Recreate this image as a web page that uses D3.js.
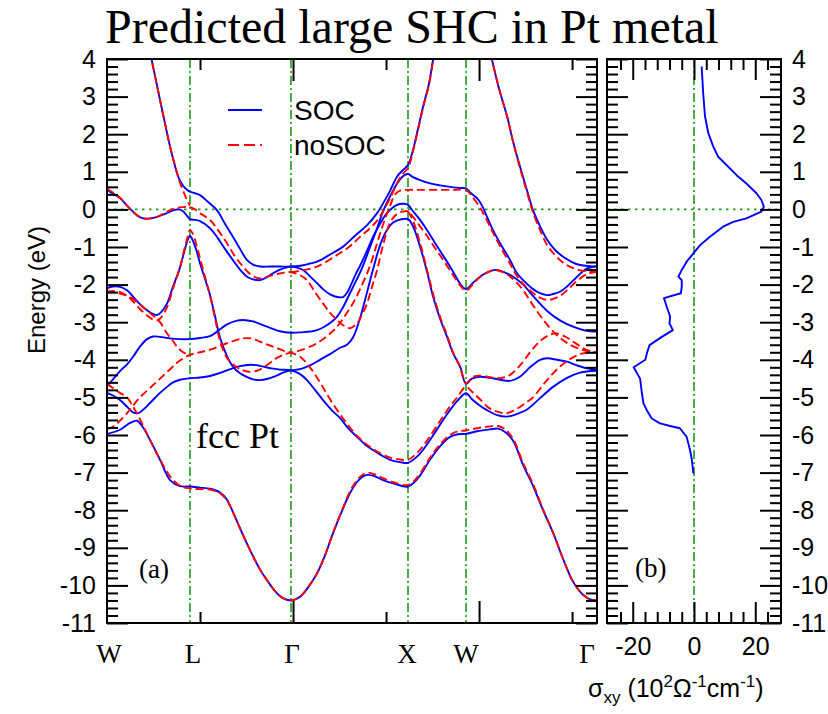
<!DOCTYPE html>
<html>
<head>
<meta charset="utf-8">
<script src="https://cdn.jsdelivr.net/npm/d3@7"></script>
<style>
  body { margin: 0; background: #fff; }
  text { fill: #000; }
</style>
</head>
<body>
<svg id="chart" width="828" height="714"></svg>
<script>
// Pt band structure (a) + spin Hall conductivity (b)

// high-symmetry points along the k-path (path units, W=0)
const symLabels = ["W", "L", "Γ", "X", "W", "Γ"];
const symK = [0, 0.446, 0.989, 1.618, 1.930, 2.634];

// bands with spin-orbit coupling: [k, E(eV)]
const socBands = [
  [[0,-5.97],[0.070,-5.86],[0.124,-5.68],[0.161,-5.62],[0.194,-5.80],[0.231,-6.13],[0.285,-6.66],[0.339,-7.20],[0.392,-7.36],[0.446,-7.37],[0.500,-7.40],[0.554,-7.43],[0.608,-7.53],[0.645,-7.72],[0.677,-8.05],[0.715,-8.48],[0.769,-9.06],[0.823,-9.58],[0.860,-9.86],[0.903,-10.15],[0.946,-10.34],[0.989,-10.40],[1.038,-10.30],[1.091,-9.98],[1.129,-9.68],[1.172,-9.20],[1.215,-8.61],[1.269,-7.95],[1.306,-7.55],[1.344,-7.25],[1.376,-7.10],[1.403,-7.06],[1.441,-7.10],[1.484,-7.20],[1.548,-7.30],[1.618,-7.37],[1.672,-7.15],[1.737,-6.65],[1.790,-6.30],[1.844,-6.05],[1.887,-5.98],[1.930,-5.97],[1.989,-5.90],[2.059,-5.85],[2.102,-5.83],[2.140,-5.92],[2.183,-6.15],[2.237,-6.80],[2.290,-7.35],[2.344,-8.00],[2.398,-8.60],[2.452,-9.30],[2.505,-9.90],[2.559,-10.25],[2.597,-10.37],[2.634,-10.40]],
  [[0,-4.88],[0.032,-4.95],[0.070,-5.07],[0.108,-5.25],[0.140,-5.40],[0.167,-5.42],[0.194,-5.33],[0.231,-5.15],[0.285,-4.88],[0.323,-4.72],[0.355,-4.60],[0.392,-4.53],[0.446,-4.49],[0.500,-4.47],[0.554,-4.43],[0.608,-4.35],[0.645,-4.28],[0.715,-4.17],[0.769,-4.13],[0.823,-4.16],[0.876,-4.22],[0.930,-4.26],[0.989,-4.28],[1.038,-4.38],[1.075,-4.54],[1.118,-4.80],[1.161,-5.07],[1.210,-5.35],[1.253,-5.55],[1.296,-5.82],[1.344,-6.05],[1.387,-6.25],[1.430,-6.40],[1.478,-6.55],[1.522,-6.66],[1.575,-6.72],[1.618,-6.74],[1.672,-6.55],[1.720,-6.25],[1.774,-5.85],[1.828,-5.45],[1.882,-5.10],[1.930,-4.89],[1.962,-5.05],[2.005,-5.22],[2.043,-5.34],[2.097,-5.47],[2.151,-5.51],[2.204,-5.44],[2.258,-5.32],[2.328,-5.02],[2.398,-4.72],[2.473,-4.48],[2.543,-4.34],[2.634,-4.29]],
  [[0,-2.10],[0.032,-2.05],[0.070,-2.06],[0.108,-2.15],[0.140,-2.32],[0.177,-2.52],[0.215,-2.68],[0.247,-2.78],[0.269,-2.81],[0.290,-2.74],[0.323,-2.50],[0.355,-2.05],[0.392,-1.55],[0.419,-1.05],[0.435,-0.80],[0.446,-0.70],[0.457,-0.78],[0.478,-1.05],[0.500,-1.43],[0.527,-1.85],[0.554,-2.28],[0.581,-2.85],[0.608,-3.42],[0.645,-3.90],[0.677,-4.18],[0.715,-4.36],[0.753,-4.46],[0.785,-4.52],[0.823,-4.54],[0.860,-4.51],[0.903,-4.44],[0.946,-4.34],[0.989,-4.28],[1.038,-4.25],[1.091,-4.15],[1.145,-4.00],[1.199,-3.85],[1.253,-3.68],[1.290,-3.60],[1.323,-3.40],[1.360,-2.90],[1.398,-2.20],[1.430,-1.60],[1.468,-0.95],[1.505,-0.55],[1.538,-0.35],[1.575,-0.27],[1.618,-0.26],[1.645,-0.45],[1.683,-0.99],[1.720,-1.65],[1.753,-2.32],[1.790,-2.90],[1.828,-3.39],[1.860,-3.82],[1.898,-4.18],[1.930,-4.64],[1.962,-4.50],[2.005,-4.45],[2.059,-4.48],[2.113,-4.53],[2.167,-4.56],[2.220,-4.45],[2.274,-4.20],[2.328,-4.00],[2.366,-3.96],[2.419,-4.00],[2.473,-4.05],[2.527,-4.15],[2.581,-4.23],[2.634,-4.27]],
  [[0,-4.70],[0.032,-4.52],[0.070,-4.30],[0.108,-4.12],[0.140,-3.92],[0.177,-3.65],[0.215,-3.45],[0.247,-3.38],[0.285,-3.39],[0.339,-3.43],[0.392,-3.45],[0.446,-3.45],[0.500,-3.42],[0.554,-3.37],[0.591,-3.25],[0.645,-3.06],[0.699,-2.96],[0.731,-2.94],[0.785,-2.98],[0.860,-3.12],[0.930,-3.24],[0.989,-3.28],[1.038,-3.27],[1.129,-3.21],[1.199,-3.02],[1.237,-2.85],[1.269,-2.60],[1.306,-2.23],[1.344,-1.85],[1.376,-1.50],[1.414,-1.00],[1.452,-0.50],[1.484,-0.05],[1.522,0.35],[1.559,0.68],[1.591,0.88],[1.618,0.94],[1.645,0.86],[1.683,0.78],[1.737,0.69],[1.790,0.64],[1.844,0.60],[1.898,0.57],[1.930,0.56],[1.952,0.45],[1.989,0.30],[2.016,0.10],[2.043,-0.20],[2.075,-0.55],[2.113,-0.90],[2.167,-1.35],[2.204,-1.70],[2.237,-1.88],[2.290,-2.12],[2.328,-2.23],[2.366,-2.28],[2.398,-2.25],[2.435,-2.19],[2.473,-2.05],[2.527,-1.79],[2.581,-1.57],[2.634,-1.52]],
  [[0,0.52],[0.032,0.42],[0.070,0.30],[0.108,0.10],[0.140,-0.06],[0.161,-0.16],[0.194,-0.24],[0.231,-0.24],[0.274,-0.19],[0.312,-0.12],[0.339,-0.06],[0.366,-0.01],[0.387,0.00],[0.409,-0.05],[0.430,-0.17],[0.446,-0.26],[0.473,-0.28],[0.500,-0.31],[0.554,-0.50],[0.591,-0.73],[0.634,-1.05],[0.677,-1.35],[0.715,-1.60],[0.753,-1.79],[0.785,-1.86],[0.823,-1.88],[0.860,-1.80],[0.892,-1.70],[0.930,-1.60],[0.968,-1.54],[0.989,-1.52],[1.022,-1.55],[1.054,-1.61],[1.091,-1.78],[1.129,-1.96],[1.161,-2.12],[1.199,-2.26],[1.237,-2.33],[1.269,-2.33],[1.290,-2.22],[1.312,-2.00],[1.339,-1.70],[1.360,-1.50],[1.398,-1.10],[1.430,-0.73],[1.468,-0.38],[1.505,-0.10],[1.559,0.12],[1.597,0.15],[1.618,0.12],[1.645,-0.05],[1.683,-0.28],[1.720,-0.55],[1.753,-0.81],[1.790,-1.10],[1.844,-1.52],[1.898,-1.97],[1.930,-2.12],[1.968,-1.95],[2.005,-1.79],[2.059,-1.64],[2.097,-1.61],[2.140,-1.68],[2.183,-1.79],[2.237,-2.00],[2.290,-2.30],[2.366,-2.70],[2.435,-2.95],[2.505,-3.12],[2.570,-3.22],[2.634,-3.25]],
  [[0.231,4.20],[0.258,3.55],[0.285,2.91],[0.312,2.28],[0.339,1.67],[0.366,1.15],[0.387,0.82],[0.409,0.63],[0.430,0.52],[0.446,0.47],[0.473,0.43],[0.500,0.38],[0.543,0.20],[0.591,-0.02],[0.634,-0.38],[0.677,-0.73],[0.715,-1.05],[0.753,-1.35],[0.785,-1.47],[0.823,-1.52],[0.876,-1.52],[0.930,-1.52],[0.989,-1.52],[1.038,-1.50],[1.091,-1.44],[1.129,-1.39],[1.199,-1.20],[1.269,-0.99],[1.333,-0.70],[1.398,-0.42],[1.452,-0.10],[1.484,0.16],[1.522,0.50],[1.559,0.87],[1.591,1.05],[1.618,1.18],[1.645,1.58],[1.672,2.15],[1.699,2.73],[1.731,3.35],[1.753,3.98],[1.774,4.45]],
  [[2.048,4.45],[2.070,3.97],[2.108,3.20],[2.151,2.47],[2.183,1.80],[2.220,1.14],[2.258,0.50],[2.290,-0.02],[2.328,-0.45],[2.366,-0.81],[2.409,-1.08],[2.452,-1.26],[2.500,-1.40],[2.543,-1.48],[2.597,-1.51],[2.634,-1.52]]
];

// bands without spin-orbit coupling: [k, E(eV)]
const nosocBands = [
  [[0,-4.64],[0.032,-4.75],[0.070,-4.88],[0.108,-5.00],[0.140,-5.25],[0.161,-5.42],[0.194,-5.75],[0.231,-6.13],[0.285,-6.65],[0.339,-7.10],[0.392,-7.35],[0.446,-7.42],[0.500,-7.44],[0.554,-7.45],[0.608,-7.55],[0.645,-7.74],[0.677,-8.05],[0.715,-8.48],[0.769,-9.06],[0.823,-9.58],[0.860,-9.86],[0.903,-10.15],[0.946,-10.34],[0.989,-10.40],[1.038,-10.30],[1.091,-9.98],[1.129,-9.68],[1.172,-9.20],[1.215,-8.61],[1.269,-7.93],[1.306,-7.50],[1.344,-7.20],[1.376,-7.05],[1.403,-7.00],[1.441,-7.05],[1.484,-7.15],[1.548,-7.27],[1.618,-7.33],[1.672,-7.10],[1.737,-6.60],[1.790,-6.25],[1.844,-6.00],[1.887,-5.90],[1.930,-5.88],[1.989,-5.82],[2.059,-5.77],[2.102,-5.76],[2.140,-5.85],[2.183,-6.10],[2.237,-6.75],[2.290,-7.30],[2.344,-7.98],[2.398,-8.60],[2.452,-9.30],[2.505,-9.90],[2.559,-10.25],[2.597,-10.37],[2.634,-10.40]],
  [[0,-5.84],[0.032,-5.78],[0.070,-5.62],[0.108,-5.42],[0.140,-5.22],[0.177,-5.00],[0.231,-4.75],[0.285,-4.50],[0.339,-4.25],[0.392,-4.02],[0.446,-3.87],[0.500,-3.80],[0.554,-3.73],[0.645,-3.56],[0.731,-3.43],[0.785,-3.44],[0.823,-3.52],[0.876,-3.62],[0.914,-3.69],[0.957,-3.77],[0.989,-3.81],[1.038,-3.92],[1.091,-4.20],[1.145,-4.60],[1.199,-5.05],[1.253,-5.45],[1.306,-5.80],[1.360,-6.10],[1.414,-6.32],[1.468,-6.48],[1.522,-6.60],[1.575,-6.65],[1.618,-6.66],[1.672,-6.45],[1.720,-6.15],[1.774,-5.75],[1.828,-5.35],[1.882,-5.00],[1.930,-4.72],[1.962,-4.85],[2.005,-5.05],[2.059,-5.30],[2.113,-5.40],[2.151,-5.42],[2.204,-5.30],[2.258,-5.12],[2.290,-5.00],[2.355,-4.60],[2.435,-4.18],[2.500,-3.95],[2.559,-3.83],[2.634,-3.81]],
  [[0,-2.19],[0.032,-2.20],[0.070,-2.24],[0.108,-2.30],[0.140,-2.38],[0.194,-2.60],[0.247,-2.82],[0.285,-3.00],[0.323,-3.30],[0.355,-3.50],[0.376,-3.65],[0.409,-3.80],[0.446,-3.87]],
  [[0,-2.19],[0.032,-2.17],[0.070,-2.20],[0.108,-2.30],[0.140,-2.45],[0.177,-2.65],[0.215,-2.82],[0.247,-2.93],[0.269,-2.95],[0.290,-2.88],[0.323,-2.60],[0.355,-2.10],[0.392,-1.55],[0.419,-1.00],[0.435,-0.70],[0.446,-0.55],[0.462,-0.65],[0.484,-1.00],[0.500,-1.30],[0.527,-1.80],[0.554,-2.30],[0.581,-2.90],[0.608,-3.50],[0.645,-3.95],[0.699,-4.20],[0.731,-4.28],[0.769,-4.32],[0.812,-4.28],[0.860,-4.14],[0.914,-3.95],[0.957,-3.85],[0.989,-3.81],[1.038,-3.75],[1.129,-3.56],[1.199,-3.30],[1.237,-3.12],[1.290,-2.75],[1.333,-2.40],[1.376,-1.95],[1.414,-1.50],[1.452,-0.90],[1.484,-0.40],[1.522,0.10],[1.548,0.40],[1.575,0.50],[1.618,0.52],[1.683,0.52],[1.790,0.52],[1.871,0.52],[1.930,0.52],[1.962,0.35],[2.005,0.05],[2.043,-0.30],[2.075,-0.62],[2.113,-0.98],[2.167,-1.45],[2.204,-1.78],[2.237,-1.98],[2.290,-2.22],[2.328,-2.35],[2.366,-2.41],[2.398,-2.38],[2.435,-2.30],[2.473,-2.15],[2.527,-1.90],[2.581,-1.72],[2.634,-1.66]],
  [[0,0.55],[0.032,0.45],[0.070,0.31],[0.108,0.10],[0.140,-0.07],[0.177,-0.20],[0.215,-0.25],[0.258,-0.22],[0.301,-0.12],[0.339,-0.02],[0.376,0.04],[0.409,0.06],[0.446,0.06],[0.473,0.00],[0.500,-0.10],[0.554,-0.28],[0.597,-0.55],[0.645,-0.90],[0.688,-1.25],[0.731,-1.52],[0.769,-1.72],[0.806,-1.82],[0.839,-1.83],[0.876,-1.77],[0.914,-1.72],[0.952,-1.68],[0.989,-1.67],[1.038,-1.75],[1.075,-1.88],[1.118,-2.20],[1.161,-2.50],[1.199,-2.75],[1.237,-2.94],[1.269,-3.08],[1.306,-3.16],[1.344,-3.03],[1.371,-2.80],[1.398,-2.50],[1.425,-2.05],[1.452,-1.61],[1.484,-0.95],[1.522,-0.35],[1.559,-0.12],[1.591,-0.06],[1.618,-0.05],[1.645,-0.20],[1.683,-0.45],[1.720,-0.70],[1.753,-0.95],[1.790,-1.22],[1.844,-1.62],[1.898,-2.02],[1.930,-2.16],[1.968,-1.98],[2.005,-1.80],[2.059,-1.65],[2.097,-1.62],[2.140,-1.70],[2.183,-1.85],[2.237,-2.15],[2.290,-2.55],[2.355,-3.00],[2.419,-3.35],[2.489,-3.60],[2.559,-3.74],[2.634,-3.80]],
  [[0.231,4.20],[0.258,3.55],[0.285,2.91],[0.312,2.28],[0.339,1.67],[0.366,1.15],[0.387,0.78],[0.409,0.50],[0.430,0.25],[0.446,0.10]],
  [[0.989,-1.67],[1.038,-1.63],[1.129,-1.52],[1.237,-1.21],[1.306,-0.98],[1.360,-0.73],[1.414,-0.50],[1.452,-0.30],[1.484,-0.05],[1.522,0.30],[1.559,0.70],[1.591,0.95],[1.618,1.10],[1.645,1.55],[1.672,2.12],[1.699,2.70],[1.731,3.32],[1.753,3.95],[1.774,4.45]],
  [[2.048,4.45],[2.070,3.97],[2.108,3.20],[2.151,2.47],[2.183,1.80],[2.220,1.10],[2.258,0.45],[2.290,-0.08],[2.328,-0.55],[2.366,-0.95],[2.409,-1.22],[2.452,-1.42],[2.500,-1.55],[2.543,-1.62],[2.597,-1.65],[2.634,-1.66]],
  [[1.618,-0.05],[1.645,-0.30],[1.683,-0.90],[1.720,-1.60],[1.753,-2.25],[1.790,-2.85],[1.828,-3.35],[1.860,-3.80],[1.898,-4.20],[1.930,-4.62],[1.968,-4.45],[2.005,-4.42],[2.059,-4.46],[2.113,-4.49],[2.167,-4.40],[2.220,-4.15],[2.274,-3.80],[2.328,-3.50],[2.382,-3.33],[2.419,-3.30],[2.462,-3.38],[2.516,-3.55],[2.570,-3.72],[2.634,-3.81]]
];

// spin Hall conductivity, panel (b)
const shcE     = [3.80, 3.09, 2.47, 2.02, 1.67, 1.40, 1.18, 0.91, 0.69, 0.43, 0.25, 0.07, -0.06, -0.24, -0.33, -0.46, -0.73, -0.95, -1.17, -1.39, -1.61, -1.79, -1.88, -2.06, -2.23, -2.36, -2.59, -2.85, -3.03, -3.21, -3.39, -3.61, -3.83, -4.00, -4.20, -4.50, -4.89, -5.16, -5.34, -5.56, -5.69, -5.76, -5.82, -6.05, -6.40, -6.66, -7.02];
const shcSigma = [2.5, 3.0, 3.6, 4.7, 6.3, 7.9, 10.6, 13.9, 17.1, 20.4, 22.0, 22.8, 22.0, 17.1, 12.8, 9.5, 5.2, 2.0, -0.2, -2.4, -4.0, -5.1, -4.0, -4.0, -4.3, -9.8, -8.9, -7.8, -8.0, -6.9, -10.5, -14.5, -15.4, -15.9, -19.7, -17.6, -17.0, -16.5, -15.4, -13.8, -11.1, -7.8, -4.6, -2.4, -1.3, -0.7, -0.2];

const energyTicks = d3.range(-11, 5, 1);
const sigmaTicks = [-20, 0, 20];

const svg = d3.select("#chart");
const sans = "'Liberation Sans', Arial, sans-serif";
const serif = "'Liberation Serif', 'Times New Roman', serif";
const green = "#1a9a1a";
const plain = d => String(d);   // hyphen-minus like the original

const panelA = { left: 107, right: 597, top: 59, bottom: 623 };
const panelB = { left: 607, right: 781, top: 59, bottom: 623 };

const x = d3.scaleLinear().domain([0, symK[symK.length - 1]]).range([panelA.left, panelA.right]);
const y = d3.scaleLinear().domain([-11, 4]).range([panelA.bottom, panelA.top]);
const xs = d3.scaleLinear().domain([-28.4, 28.4]).range([panelB.left, panelB.right]);

// title
svg.append("text").attr("x", 105).attr("y", 43)
  .style("font-family", serif).style("font-size", "48px")
  .text("Predicted large SHC in Pt metal");

const defs = svg.append("defs");
defs.append("clipPath").attr("id", "clipA").append("rect")
  .attr("x", panelA.left).attr("y", panelA.top)
  .attr("width", panelA.right - panelA.left).attr("height", panelA.bottom - panelA.top);

// ---- panel (a) ----
const gA = svg.append("g");
const plotA = gA.append("g").attr("clip-path", "url(#clipA)");

// guide lines
plotA.selectAll("line.sym").data(symK.slice(1, -1)).join("line")
  .attr("x1", d => x(d)).attr("x2", d => x(d))
  .attr("y1", panelA.top).attr("y2", panelA.bottom)
  .attr("stroke", green).attr("stroke-width", 1.6).attr("stroke-dasharray", "9,3,2,3");
plotA.append("line")
  .attr("x1", panelA.left).attr("x2", panelA.right).attr("y1", y(0)).attr("y2", y(0))
  .attr("stroke", green).attr("stroke-width", 1.6).attr("stroke-dasharray", "2.5,4.5");

const bandLine = d3.line().x(d => x(d[0])).y(d => y(d[1])).curve(d3.curveCatmullRom.alpha(0.5));

plotA.append("g").selectAll("path").data(socBands).join("path")
  .attr("d", bandLine).attr("fill", "none")
  .attr("stroke", "#0000ff").attr("stroke-width", 1.9);
plotA.append("g").selectAll("path").data(nosocBands).join("path")
  .attr("d", bandLine).attr("fill", "none")
  .attr("stroke", "#ff0000").attr("stroke-width", 1.9).attr("stroke-dasharray", "8,4");

// axes of (a)
function ticksY(g, scale, xPos, dir, vals, len) {
  const ax = dir > 0 ? d3.axisRight(scale) : d3.axisLeft(scale);
  g.append("g").attr("transform", `translate(${xPos},0)`)
    .call(ax.tickValues(vals).tickSize(len).tickFormat(""))
    .call(s => s.select(".domain").remove())
    .selectAll("line").attr("stroke", "#000").attr("stroke-width", 2);
}
function ticksX(g, scale, yPos, dir, vals, len) {
  const ax = dir > 0 ? d3.axisBottom(scale) : d3.axisTop(scale);
  g.append("g").attr("transform", `translate(0,${yPos})`)
    .call(ax.tickValues(vals).tickSize(len).tickFormat(""))
    .call(s => s.select(".domain").remove())
    .selectAll("line").attr("stroke", "#000").attr("stroke-width", 2);
}
const minorE = d3.range(-11, 4.001, 0.2).map(v => +v.toFixed(1)).filter(v => !Number.isInteger(v));

ticksY(gA, y, panelA.left, 1, minorE, 11);
ticksY(gA, y, panelA.left, 1, energyTicks, 21);
ticksY(gA, y, panelA.right, -1, minorE, 11);
ticksY(gA, y, panelA.right, -1, energyTicks, 21);
ticksX(gA, x, panelA.bottom, -1, [0.5, 1.5, 2.5], 11);
ticksX(gA, x, panelA.bottom, -1, [1, 2], 22);
ticksX(gA, x, panelA.top, 1, [0.5, 1.5, 2.5], 11);
ticksX(gA, x, panelA.top, 1, [1, 2], 22);

gA.append("g").attr("transform", `translate(${panelA.left},0)`)
  .call(d3.axisLeft(y).tickValues(energyTicks).tickSize(0).tickPadding(11).tickFormat(plain))
  .call(s => s.select(".domain").remove())
  .selectAll("text").style("font-family", sans).style("font-size", "25px").attr("fill", "#000");

gA.append("rect").attr("x", panelA.left).attr("y", panelA.top)
  .attr("width", panelA.right - panelA.left).attr("height", panelA.bottom - panelA.top)
  .attr("fill", "none").attr("stroke", "#000").attr("stroke-width", 2);

// k-point labels
const labelShift = [2, 3, 1, -1, 0, -10];
gA.selectAll("text.sym").data(symLabels).join("text")
  .attr("x", (d, i) => x(symK[i]) + labelShift[i]).attr("y", 663)
  .attr("text-anchor", "middle")
  .style("font-family", serif).style("font-size", "27px")
  .text(d => d);

svg.append("text").attr("transform", "translate(45,290) rotate(-90)")
  .attr("text-anchor", "middle")
  .style("font-family", sans).style("font-size", "24px")
  .text("Energy (eV)");

// legend
const legend = gA.append("g");
legend.append("line").attr("x1", 228).attr("x2", 262).attr("y1", 110).attr("y2", 110)
  .attr("stroke", "#0000ff").attr("stroke-width", 1.9);
legend.append("text").attr("x", 294).attr("y", 120)
  .style("font-family", sans).style("font-size", "28px").text("SOC");
legend.append("line").attr("x1", 228).attr("x2", 262).attr("y1", 145).attr("y2", 145)
  .attr("stroke", "#ff0000").attr("stroke-width", 1.9).attr("stroke-dasharray", "11,5");
legend.append("text").attr("x", 294).attr("y", 155)
  .style("font-family", sans).style("font-size", "28px").text("noSOC");

gA.append("text").attr("x", 196).attr("y", 448)
  .style("font-family", serif).style("font-size", "36px").text("fcc Pt");
gA.append("text").attr("x", 139).attr("y", 578)
  .style("font-family", serif).style("font-size", "27px").text("(a)");

// ---- panel (b) ----
const gB = svg.append("g");
gB.append("line").attr("x1", xs(0)).attr("x2", xs(0)).attr("y1", panelB.top).attr("y2", panelB.bottom)
  .attr("stroke", green).attr("stroke-width", 1.6).attr("stroke-dasharray", "9,3,2,3");
gB.append("line").attr("x1", panelB.left).attr("x2", panelB.right).attr("y1", y(0)).attr("y2", y(0))
  .attr("stroke", green).attr("stroke-width", 1.6).attr("stroke-dasharray", "2.5,4.5");

const shcLine = d3.line().x(d => xs(d[1])).y(d => y(d[0]));
gB.append("path").datum(d3.zip(shcE, shcSigma))
  .attr("d", shcLine).attr("fill", "none")
  .attr("stroke", "#0000ff").attr("stroke-width", 1.9).attr("stroke-linejoin", "round");

const minorS = d3.range(-24, 25, 4).filter(v => v % 20 !== 0);
ticksY(gB, y, panelB.left, 1, minorE, 11);
ticksY(gB, y, panelB.left, 1, energyTicks, 21);
ticksY(gB, y, panelB.right, -1, minorE, 11);
ticksY(gB, y, panelB.right, -1, energyTicks, 21);
ticksX(gB, xs, panelB.bottom, -1, minorS, 11);
ticksX(gB, xs, panelB.bottom, -1, sigmaTicks, 21);
ticksX(gB, xs, panelB.top, 1, minorS, 11);
ticksX(gB, xs, panelB.top, 1, sigmaTicks, 21);

gB.append("g").attr("transform", `translate(${panelB.right},0)`)
  .call(d3.axisRight(y).tickValues(energyTicks).tickSize(0).tickPadding(11).tickFormat(plain))
  .call(s => s.select(".domain").remove())
  .selectAll("text").style("font-family", sans).style("font-size", "25px").attr("fill", "#000");

gB.append("g").attr("transform", `translate(0,${panelB.bottom})`)
  .call(d3.axisBottom(xs).tickValues(sigmaTicks).tickSize(0).tickPadding(14).tickFormat(plain))
  .call(s => s.select(".domain").remove())
  .selectAll("text").style("font-family", sans).style("font-size", "25px").attr("fill", "#000");

gB.append("rect").attr("x", panelB.left).attr("y", panelB.top)
  .attr("width", panelB.right - panelB.left).attr("height", panelB.bottom - panelB.top)
  .attr("fill", "none").attr("stroke", "#000").attr("stroke-width", 2);

gB.append("text").attr("x", 635).attr("y", 577)
  .style("font-family", serif).style("font-size", "27px").text("(b)");

const sigLabel = svg.append("text").attr("x", 588).attr("y", 697)
  .style("font-family", sans).style("font-size", "25px");
sigLabel.append("tspan").text("σ");
sigLabel.append("tspan").attr("dy", 6).style("font-size", "17px").text("xy");
sigLabel.append("tspan").attr("dy", -6).text(" (10");
sigLabel.append("tspan").attr("dy", -10).style("font-size", "17px").text("2");
sigLabel.append("tspan").attr("dy", 10).text("Ω");
sigLabel.append("tspan").attr("dy", -10).style("font-size", "17px").text("-1");
sigLabel.append("tspan").attr("dy", 10).text("cm");
sigLabel.append("tspan").attr("dy", -10).style("font-size", "17px").text("-1");
sigLabel.append("tspan").attr("dy", 10).text(")");
</script>
</body>
</html>
